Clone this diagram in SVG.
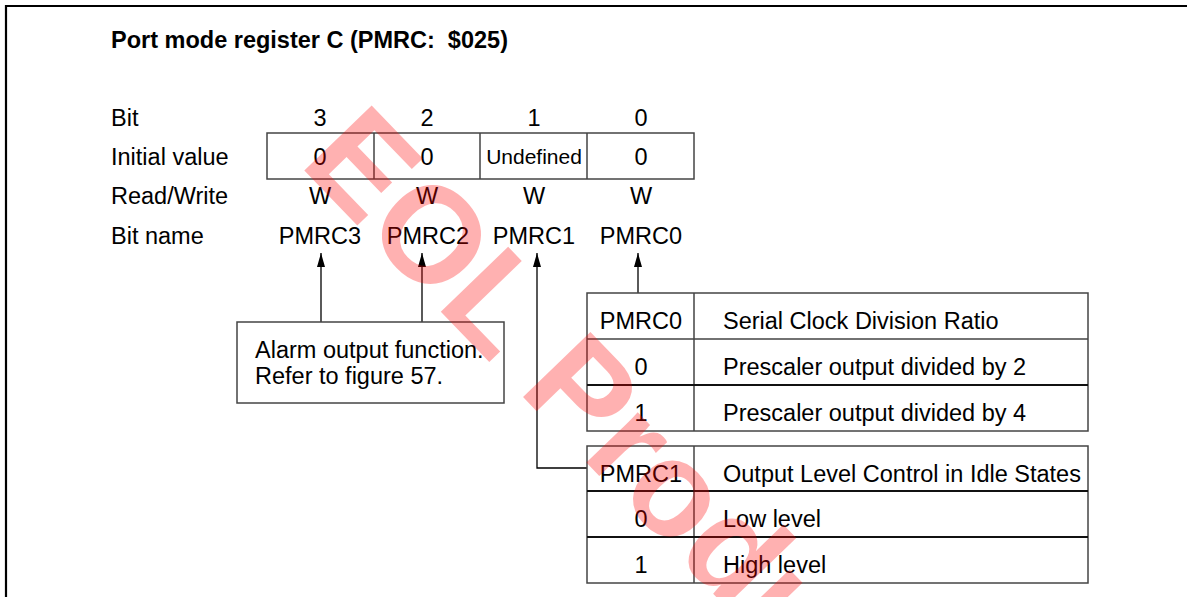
<svg xmlns="http://www.w3.org/2000/svg" width="1187" height="597" viewBox="0 0 1187 597">
<style>
text{font-family:"Liberation Sans",Arial,sans-serif;font-size:23.5px;fill:#000}
.b{font-weight:bold}
.c{text-anchor:middle}
.sm{font-size:21px}
.box{fill:#fff;stroke:#444;stroke-width:1.5}
.ln{fill:none;stroke:#444;stroke-width:1.5}
.dk{fill:none;stroke:#111;stroke-width:1.8}
.con{fill:none;stroke:#000;stroke-width:1.3}
.frame{fill:none;stroke:#000;stroke-width:2.2}
.wm{font-family:"Liberation Sans",Arial,sans-serif;font-weight:bold;font-size:136px;fill:#ff0000;opacity:0.3}
</style>
<defs>
<marker id="ah" markerUnits="userSpaceOnUse" markerWidth="14" markerHeight="8" refX="14" refY="4" orient="auto">
<path d="M0,0 L14,4 L0,8 z" fill="#000"/>
</marker>
</defs>
<rect width="1187" height="597" fill="#fff"/>
<path class="frame" d="M6,597 V6 H1187"/>

<g id="title">
<text class="b" x="111" y="48" xml:space="preserve">Port mode register C (PMRC:  $025)</text>
</g>

<g id="labels">
<text x="111" y="126">Bit</text>
<text x="111" y="165">Initial value</text>
<text x="111" y="204">Read/Write</text>
<text x="111" y="244">Bit name</text>
</g>

<g id="register">
<text class="c" x="320" y="126">3</text>
<text class="c" x="427" y="126">2</text>
<text class="c" x="534" y="126">1</text>
<text class="c" x="641" y="126">0</text>
<rect class="ln" x="267" y="133" width="427" height="46"/>
<path class="ln" d="M374,133 V179 M480,133 V179 M587,133 V179"/>
<text class="c" x="320" y="165">0</text>
<text class="c" x="427" y="165">0</text>
<text class="c sm" x="534" y="164">Undefined</text>
<text class="c" x="641" y="165">0</text>
<text class="c" x="320" y="204">W</text>
<text class="c" x="427" y="204">W</text>
<text class="c" x="534" y="204">W</text>
<text class="c" x="641" y="204">W</text>
<text class="c" x="320" y="244">PMRC3</text>
<text class="c" x="428" y="244">PMRC2</text>
<text class="c" x="534" y="244">PMRC1</text>
<text class="c" x="641" y="244">PMRC0</text>
</g>

<g id="connectors">
<path class="con" d="M321,322 V253" marker-end="url(#ah)"/>
<path class="con" d="M422,322 V253" marker-end="url(#ah)"/>
<path class="con" d="M587,468 H537 V253" marker-end="url(#ah)"/>
<path class="con" d="M638,293 V253" marker-end="url(#ah)"/>
</g>

<g id="alarm">
<rect class="box" x="237" y="322" width="267" height="81"/>
<text x="255" y="358">Alarm output function.</text>
<text x="255" y="384">Refer to figure 57.</text>
</g>

<g id="table-pmrc0">
<rect class="box" x="587" y="293" width="501" height="138"/>
<path class="ln" d="M694,293 V431 M587,339 H1088"/>
<path class="dk" d="M587,385 H1088"/>
<text class="c" x="641" y="329">PMRC0</text>
<text x="723" y="329">Serial Clock Division Ratio</text>
<text class="c" x="641" y="375">0</text>
<text x="723" y="375">Prescaler output divided by 2</text>
<text class="c" x="641" y="421">1</text>
<text x="723" y="421">Prescaler output divided by 4</text>
</g>

<g id="table-pmrc1">
<rect class="box" x="587" y="446" width="501" height="137"/>
<path class="ln" d="M694,446 V583"/>
<path class="dk" d="M587,491 H1088 M587,537 H1088"/>
<text class="c" x="641" y="482">PMRC1</text>
<text x="723" y="482">Output Level Control in Idle States</text>
<text class="c" x="641" y="527">0</text>
<text x="723" y="527">Low level</text>
<text class="c" x="641" y="573">1</text>
<text x="723" y="573">High level</text>
</g>

<g id="watermark">
<text class="wm" transform="translate(298,164) rotate(46)">EOL Product</text>
</g>
</svg>
